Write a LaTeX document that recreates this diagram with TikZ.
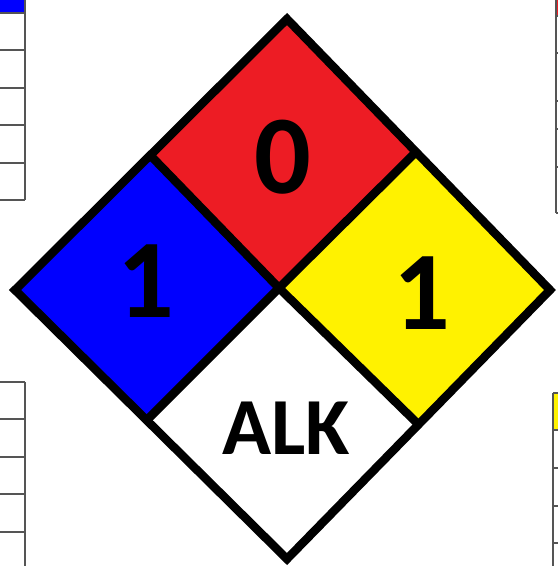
\documentclass[tikz,border=0pt]{standalone}
\usepackage{fontspec}
\setmainfont{Carlito}
\definecolor{nfpared}{HTML}{ED1C24}
\definecolor{nfpablue}{HTML}{0000FF}
\definecolor{nfpayellow}{HTML}{FFF200}
\definecolor{gridgray}{HTML}{555555}
\tikzset{
  border/.style={line width=8.5pt, line join=miter, draw=black},
  grid line/.style={draw=gridgray, line width=1.2pt},
  digit/.style={font=\fontsize{112}{112}\selectfont\bfseries, inner sep=0pt},
  label text/.style={font=\fontsize{81}{81}\selectfont\bfseries, inner sep=0pt}
}
\begin{document}
\begin{tikzpicture}[x=1pt,y=-1pt]
\useasboundingbox (0,0) rectangle (558,566);
\fill[white] (0,0) rectangle (558,566);
% corner tables
\fill[nfpablue] (0,0) rectangle (25,13);
\foreach \yy in {13,50,88,125,163,200} \draw[grid line] (0,\yy) -- (25,\yy);
\draw[grid line] (25,0) -- (25,200);
\fill[nfpared] (556,0) rectangle (558,16);
\foreach \yy in {16,53,101,129,167,213} \draw[grid line] (556,\yy) -- (558,\yy);
\draw[grid line] (556,0) -- (556,213);
\foreach \yy in {382,419,457,494,532} \draw[grid line] (0,\yy) -- (25,\yy);
\draw[grid line] (25,382) -- (25,566);
\fill[nfpayellow] (553,393) rectangle (558,430);
\foreach \yy in {393,430,468,506,543} \draw[grid line] (553,\yy) -- (558,\yy);
\draw[grid line] (553,393) -- (553,566);
% diamond points
\coordinate (T) at (287,19);
\coordinate (R) at (550,290);
\coordinate (B) at (287,559);
\coordinate (L) at (15,290);
\coordinate (UL) at (150,155);
\coordinate (UR) at (415,153);
\coordinate (LL) at (147,420);
\coordinate (LR) at (418,424);
\coordinate (C) at (279,288);
\fill[nfpared] (T) -- (UR) -- (C) -- (UL) -- cycle;
\fill[nfpablue] (UL) -- (C) -- (LL) -- (L) -- cycle;
\fill[nfpayellow] (UR) -- (R) -- (LR) -- (C) -- cycle;
\fill[white] (C) -- (LR) -- (B) -- (LL) -- cycle;
\draw[border] (UL) -- (C) -- (LR);
\draw[border] (UR) -- (C) -- (LL);
\draw[border] (T) -- (R) -- (B) -- (L) -- cycle;
% texts
\node[digit] (flam) at (283,157) {0};
\node[digit] (health) at (146,281) {1};
\node[digit] (react) at (422,293) {1};
\node[label text] (spec) at (286,428) {ALK};
\end{tikzpicture}
\end{document}
